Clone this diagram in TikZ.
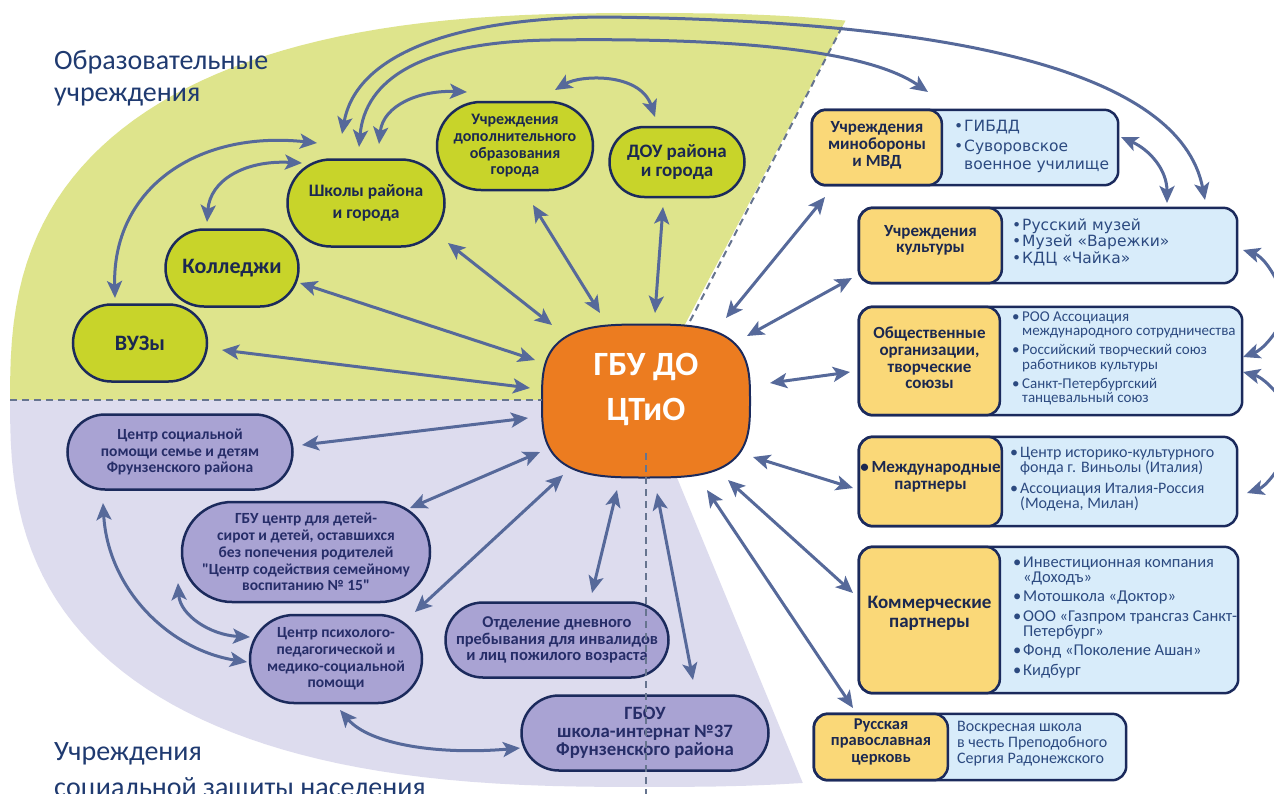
\documentclass[tikz,border=0pt]{standalone}
\usepackage{fontspec}
\setmainfont{Carlito}[Ligatures=TeXOff]
\newfontfamily\dvs{DejaVu Sans}
\usetikzlibrary{arrows.meta,calc}
\definecolor{bggreen}{HTML}{DEE48C}
\definecolor{bglav}{HTML}{DDDCEE}
\definecolor{ngreen}{HTML}{C8D42A}
\definecolor{nlav}{HTML}{A9A3D3}
\definecolor{norange}{HTML}{EC7C20}
\definecolor{nyellow}{HTML}{FAD878}
\definecolor{nblue}{HTML}{D8ECFA}
\definecolor{navy}{HTML}{1B2A5C}
\definecolor{arrc}{HTML}{56699A}
\definecolor{tdark}{HTML}{1B2850}
\definecolor{tlav}{HTML}{262D68}
\definecolor{tblue}{HTML}{2C4A80}
\definecolor{theading}{HTML}{1F3A70}
\definecolor{dashc}{HTML}{66748F}
\newcommand{\fs}[2]{\fontsize{#1}{#2}\selectfont\lineskiplimit=-30pt\relax}
\newcommand{\bul}{\makebox[10pt][l]{•}}
\newcommand{\nob}{\hspace*{10pt}}
\begin{document}
\begin{tikzpicture}[x=1pt,y=-1pt,
  gnode/.style={draw=navy, line width=2.5pt, fill=ngreen, text=tdark, align=center, inner sep=0pt},
  lnode/.style={gnode, fill=nlav, text=tlav},
  arr/.style={draw=arrc, line width=3pt, <->},
  arrone/.style={draw=arrc, line width=3pt, ->},
  bfill/.style={fill=nblue, rounded corners=14pt, inner sep=0pt},
  yfill/.style={fill=nyellow, draw=navy, line width=2.5pt, rounded corners=14pt},
  bord/.style={draw=navy, line width=2.5pt, rounded corners=14pt},
  ytext/.style={text=tdark, align=center, inner sep=0pt},
  btext/.style={text=tblue, align=left, inner sep=0pt, anchor=west},
  dashline/.style={draw=dashc, line width=2pt, dash pattern=on 7pt off 5pt},
  >={Stealth[length=17pt,width=15pt,inset=4pt]}]
\useasboundingbox (0,0) rectangle (1274,793);
\fill[white] (0,0) rectangle (1274,793);
% background sectors
\begin{scope}
\clip (645,400) -- (904,-90) -- (-50,-90) -- (-50,400) -- cycle;
\fill[bggreen] plot[domain=0.5:359.5, samples=180] ({645+635*cos(\x)*pow(abs(cos(\x)),-0.2308)}, {400-387*sin(\x)*pow(abs(sin(\x)),-0.2308)}) -- cycle;
\end{scope}
\begin{scope}
\clip (645,400) -- (-50,400) -- (-50,900) -- (851,900) -- cycle;
\fill[bglav] plot[domain=0.5:359.5, samples=180] ({645+635*cos(\x)*pow(abs(cos(\x)),-0.2308)}, {400-387*sin(\x)*pow(abs(sin(\x)),-0.2308)}) -- cycle;
\end{scope}
% headings
\node[anchor=north west, inner sep=0pt, align=left, text=theading, font=\fs{28}{32}] (h1) at (54,50) {Образовательные\\учреждения};
\node[anchor=north west, inner sep=0pt, align=left, text=theading, font=\fs{28}{36}] (h2) at (54,742) {Учреждения\\социальной защиты населения};
% green nodes
\node[gnode, rounded corners=43.5pt, minimum width=157pt, minimum height=87pt, font=\bfseries\fs{17.5}{22}] (shk) at (366,203) {Школы района\\и города};
\node[gnode, rounded corners=38.5pt, minimum width=133pt, minimum height=77pt, font=\bfseries\fs{22}{24}] (kol) at (232,268) {Колледжи};
\node[gnode, rounded corners=38.5pt, minimum width=134pt, minimum height=77pt, font=\bfseries\fs{22}{24}] (vuz) at (140,343) {ВУЗы};
\node[gnode, rounded corners=44pt, minimum width=156pt, minimum height=88pt, font=\bfseries\fs{16}{16.7}] (dop) at (515,146) {Учреждения\\дополнительного\\образования\\города};
\node[gnode, rounded corners=35pt, minimum width=135pt, minimum height=70pt, font=\bfseries\fs{19}{19}] (dou) at (677,162) {ДОУ района\\и города};
% lavender nodes
\node[lnode, rounded corners=37.5pt, minimum width=225pt, minimum height=75pt, font=\bfseries\fs{15.5}{16.5}] (soc) at (180,452) {Центр социальной\\помощи семье и детям\\Фрунзенского района};
\node[lnode, rounded corners=50pt, minimum width=248pt, minimum height=100pt, font=\bfseries\fs{15.5}{16.8}] (sir) at (306,552) {ГБУ центр для детей-\\сирот и детей, оставшихся\\без попечения родителей\\"Центр содействия семейному\\воспитанию № 15"};
\node[lnode, rounded corners=44pt, minimum width=172pt, minimum height=88pt, font=\bfseries\fs{15.5}{16.7}] (psy) at (336,659) {Центр психолого-\\педагогической и\\медико-социальной\\помощи};
\node[lnode, rounded corners=37.5pt, minimum width=223pt, minimum height=75pt, font=\bfseries\fs{16.5}{16.3}] (otd) at (557,640) {Отделение дневного\\пребывания для инвалидов\\и лиц пожилого возраста};
\node[lnode, rounded corners=37.5pt, minimum width=247pt, minimum height=75pt, font=\bfseries\fs{18.8}{18.3}] (gbou) at (645,733) {ГБОУ\\школа-интернат №37\\Фрунзенского района};
% centre (squircle outline drawn around the named node)
\node[minimum width=208pt, minimum height=153pt, inner sep=0pt] (ctr) at (646,401) {};
\begin{scope}[shift={(ctr.center)}]
\filldraw[draw=navy, line width=2pt, fill=norange] plot[domain=0.5:359.5, samples=180] ({104*cos(\x)*pow(abs(cos(\x)),-0.375)}, {-76.5*sin(\x)*pow(abs(sin(\x)),-0.375)}) -- cycle;
\end{scope}
\node[text=white, font=\bfseries\fs{34}{45}, align=center, inner sep=0pt] (ctrt) at (646,389) {ГБУ ДО\\ЦТиО};
% right boxes
\node[bfill, minimum width=306pt, minimum height=75pt] (b1) at (965,147.5) {};
\draw[yfill] (b1.north west) rectangle ($(b1.south west)+(130,0)$);
\draw[bord] (b1.north west) rectangle (b1.south east);
\node[ytext, font=\bfseries\fs{17}{17}] (y1) at (877,145) {Учреждения\\минобороны\\и МВД};
\node[btext, font=\dvs\fs{15.5}{18}] (t1) at (954,146.5) {\bul ГИБДД\\[2pt] \bul Суворовское\\ \nob военное училище};

\node[bfill, minimum width=378pt, minimum height=75pt] (b2) at (1048,245.5) {};
\draw[yfill] (b2.north west) rectangle ($(b2.south west)+(143,0)$);
\draw[bord] (b2.north west) rectangle (b2.south east);
\node[ytext, font=\bfseries\fs{17}{16.5}] (y2) at (930.5,240.5) {Учреждения\\культуры};
\node[btext, font=\dvs\fs{15.5}{16.5}] (t2) at (1012,242) {\bul Русский музей\\ \bul Музей «Варежки»\\ \bul КДЦ «Чайка»};

\node[bfill, minimum width=383pt, minimum height=108pt] (b3) at (1050.5,361) {};
\draw[yfill] (b3.north west) rectangle ($(b3.south west)+(141,0)$);
\draw[bord] (b3.north west) rectangle (b3.south east);
\node[ytext, font=\bfseries\fs{17}{16.7}] (y3) at (929.5,358) {Общественные\\организации,\\творческие\\союзы};
\node[btext, font=\fs{15}{14.5}] (t3) at (1012,358.5) {\bul РОО Ассоциация\\ \nob международного сотрудничества\\[4.5pt] \bul Российский творческий союз\\ \nob работников культуры\\[4.5pt] \bul Санкт-Петербургский\\ \nob танцевальный союз};

\node[bfill, minimum width=378pt, minimum height=89pt] (b4) at (1048,481.5) {};
\draw[yfill] (b4.north west) rectangle ($(b4.south west)+(143,0)$);
\draw[bord] (b4.north west) rectangle (b4.south east);
\node[ytext, font=\bfseries\fs{17}{17}] (y4) at (930.5,476.5) {•\,Международные\\партнеры};
\node[btext, font=\fs{16}{15}] (t4) at (1010,479) {\bul Центр историко-культурного\\ \nob фонда г. Виньолы (Италия)\\[6pt] \bul Ассоциация Италия-Россия\\ \nob (Модена, Милан)};

\node[bfill, minimum width=379pt, minimum height=146pt] (b5) at (1048.5,620) {};
\draw[yfill] (b5.north west) rectangle ($(b5.south west)+(141,0)$);
\draw[bord] (b5.north west) rectangle (b5.south east);
\node[ytext, font=\bfseries\fs{19}{19}] (y5) at (929.5,613) {Коммерческие\\партнеры};
\node[btext, font=\fs{16.5}{15}] (t5) at (1013,617.5) {\bul Инвестиционная компания\\ \nob «Доходъ»\\[4.5pt] \bul Мотошкола «Доктор»\\[4.5pt] \bul ООО «Газпром трансгаз Санкт-\\ \nob Петербург»\\[4.5pt] \bul Фонд «Поколение Ашан»\\[4.5pt] \bul Кидбург};

\node[bfill, minimum width=312pt, minimum height=66pt] (b6) at (970,747) {};
\draw[yfill] (b6.north west) rectangle ($(b6.south west)+(134,0)$);
\draw[bord] (b6.north west) rectangle (b6.south east);
\node[ytext, font=\bfseries\fs{16.5}{16.5}] (y6) at (881,741.5) {Русская\\православная\\церковь};
\node[btext, font=\fs{16}{16}] (t6) at (957,744) {Воскресная школа\\в честь Преподобного\\Сергия Радонежского};
% dashed separators
\coordinate (dl) at (10,400);
\coordinate (dt) at (842,27);
\draw[dashline] (dl) -- (dl -| ctr.west);
\draw[dashline] (dt) -- ($(ctr)+(42,-76)$);
% radial arrows
\draw[arr] ($(vuz)+(82,7)$) -- ($(ctr)+(-116,-13)$);
\draw[arr] ($(kol)+(68,15)$) -- ($(ctr)+(-111,-41)$);
\draw[arr] ($(shk)+(82,40)$) -- ($(ctr)+(-94,-76)$);
\draw[arr] ($(dop)+(18,59)$) -- ($(ctr)+(-46,-88)$);
\draw[arr] ($(dou)+(-14,45)$) -- ($(ctr)+(9,-88)$);
\draw[arr] ($(ctr)+(80,-83)$) -- ($(b1)+(-140,49.5)$);
\draw[arr] ($(ctr)+(101,-65)$) -- ($(b2)+(-196,32.5)$);
\draw[arr] ($(ctr)+(124,-18)$) -- ($(b3)+(-200.5,11)$);
\draw[arr] ($(ctr)+(107,56)$) -- ($(b4)+(-195,6.5)$);
\draw[arr] ($(ctr)+(82,79)$) -- ($(b5)+(-195.5,-27)$);
\draw[arr] ($(ctr)+(61,89)$) -- ($(b6)+(-117,-39)$);
\draw[arr] ($(soc)+(122,-7)$) -- ($(ctr)+(-118,17)$);
\draw[arr] ($(sir)+(104,-44)$) -- ($(ctr)+(-106,51)$);
\draw[arr] ($(psy)+(79,-47)$) -- ($(ctr)+(-83,74)$);
\draw[arr] ($(otd)+(35,-47)$) -- ($(ctr)+(-29,89)$);
\draw[arr] ($(gbou)+(48,-53)$) -- ($(ctr)+(11,92)$);
% curved arrows
\draw[arr] ($(kol)+(-25,-46)$) .. controls (210,180) and (245,160) .. ($(shk)+(-64,-40)$);
\draw[arr] ($(vuz)+(-25,-45)$) .. controls (112,190) and (195,130) .. ($(shk)+(-49,-60)$);
\draw[arr] ($(shk)+(13,-59)$) .. controls (383,105) and (420,90) .. ($(dop)+(-48,-54)$);
\draw[arr] ($(shk)+(-7,-56)$) .. controls (365,80) and (420,42) .. (550,40) .. controls (700,38) and (860,45) .. ($(b1)+(-37,-55.5)$);
\draw[arr] ($(shk)+(-24,-69)$) .. controls (355,60) and (440,19) .. (600,17) .. controls (950,20) and (1180,70) .. ($(b2)+(157,-45.5)$);
\draw[arr] ($(dop)+(40,-56)$) .. controls (580,75) and (640,72) .. ($(dou)+(-22,-45)$);
\draw[arr] ($(b1)+(156,-10.5)$) .. controls (1150,150) and (1167,170) .. ($(b2)+(119,-42.5)$);
\coordinate (f1) at (1285,300);
\coordinate (f2) at (1285,315);
\coordinate (f3) at (1285,405);
\coordinate (f4) at (1290,445);
\draw[arrone] (f1) .. controls (1275,272) and (1262,256) .. ($(b2)+(195,4.5)$);
\draw[arrone] (f2) .. controls (1276,335) and (1262,350) .. ($(b3)+(192.5,-4)$);
\draw[arrone] (f3) .. controls (1276,390) and (1262,377) .. ($(b3)+(192.5,11)$);
\draw[arrone] (f4) .. controls (1280,470) and (1265,487) .. ($(b4)+(199,11.5)$);
\draw[arr] ($(soc)+(-77,51)$) .. controls (108,590) and (170,650) .. ($(psy)+(-89,3)$);
\draw[arr] ($(sir)+(-128,31)$) .. controls (180,615) and (210,635) .. ($(psy)+(-86,-22)$);
\draw[arr] ($(psy)+(4,51)$) .. controls (370,745) and (440,755) .. ($(gbou)+(-125,15)$);
% vertical dashed line on top
\draw[dashline] ($(ctr)+(0,52)$) -- ($(ctr)+(0,400)$);
\end{tikzpicture}
\end{document}
